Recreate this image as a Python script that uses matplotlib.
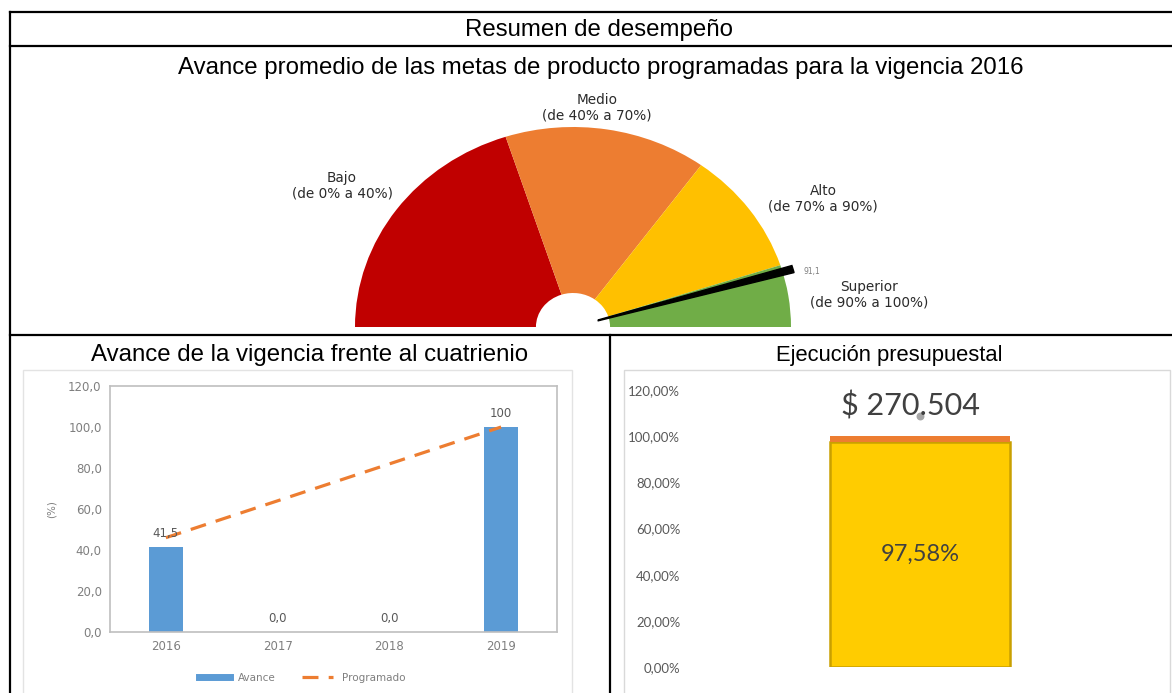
import matplotlib
matplotlib.use("Agg")
import matplotlib.pyplot as plt
from matplotlib.patches import Wedge, Rectangle
from matplotlib.lines import Line2D
from matplotlib import font_manager as fm

# ---------------- data ----------------
gauge_labels = ["Bajo\n(de 0% a 40%)", "Medio\n(de 40% a 70%)",
                "Alto\n(de 70% a 90%)", "Superior\n(de 90% a 100%)"]
gauge_ranges = [40, 30, 20, 10]
gauge_value = 91.1
gauge_value_label = "91,1"

years = ["2016", "2017", "2018", "2019"]
avance = [41.5, 0.0, 0.0, 100.0]
avance_labels = ["41,5", "0,0", "0,0", "100"]
programado = [46.0, 64.0, 82.0, 100.0]
left_yticks = [0, 20, 40, 60, 80, 100, 120]
left_yticklabels = ["0,0", "20,0", "40,0", "60,0", "80,0", "100,0", "120,0"]

ejecutado = 97.58
ejecutado_label = "97,58%"
presupuesto_label = "$ 270.504"
right_yticks = [0, 20, 40, 60, 80, 100, 120]
right_yticklabels = ["0,00%", "20,00%", "40,00%", "60,00%", "80,00%", "100,00%", "120,00%"]

# ---------------- figure ----------------
W, H = 1172, 693
fig = plt.figure(figsize=(W / 100, H / 100), dpi=100)
fig.patch.set_facecolor("white")


def has_font(name):
    try:
        fm.findfont(fm.FontProperties(family=name), fallback_to_default=False)
        return True
    except Exception:
        return False


title_font = "Liberation Sans Narrow" if has_font("Liberation Sans Narrow") else "Liberation Sans"


def box(l, t, r, b):
    return [l / W, 1 - b / H, (r - l) / W, (b - t) / H]


def fx(x):
    return x / W


def fy(y):
    return 1 - y / H


# table lines
def hline(y, x0, x1, lw=1.6):
    fig.add_artist(Line2D([fx(x0), fx(x1)], [fy(y), fy(y)], color="black", lw=lw))


def vline(x, y0, y1, lw=1.6):
    fig.add_artist(Line2D([fx(x), fx(x)], [fy(y0), fy(y1)], color="black", lw=lw))


hline(12, 10, 1172)
hline(46, 10, 1172)
hline(335, 10, 1172)
vline(10, 12, 693)
vline(610, 335, 693)

renderer = fig.canvas.get_renderer()


def fit_text(x, y, s, width, size=16, **kw):
    t = fig.text(fx(x), fy(y), s, ha="center", va="center", fontsize=size,
                 family=title_font, color="black", **kw)
    w = t.get_window_extent(renderer=renderer).width
    t.set_fontsize(size * width / w)
    return t


fit_text(599, 30, "Resumen de desempeño", 268)
fit_text(601, 68, "Avance promedio de las metas de producto programadas para la vigencia 2016", 848)
fit_text(310, 355, "Avance de la vigencia frente al cuatrienio", 440)
fit_text(889, 355, "Ejecución presupuestal", 228)

# ---------------- gauge ----------------
cx, cy = 573, 327
rx, ry = 218, 200
gl, gt, gr = 330, 110, 830
axg = fig.add_axes(box(gl, gt, gr, cy))
colors = ["#C00000", "#ED7D31", "#FFC000", "#70AD47"]
hole = 0.17
axg.pie(gauge_ranges + [sum(gauge_ranges)], colors=colors + ["none"],
        startangle=180, counterclock=False, radius=1,
        wedgeprops=dict(width=1 - hole, edgecolor="none"))
ang = 180 - 180 * gauge_value / sum(gauge_ranges)
axg.add_patch(Wedge((0, 0), 1.05, ang - 1.0, ang + 1.0, width=0.93, color="black"))
axg.set_aspect("auto")
axg.set_xlim(-(cx - gl) / rx, (gr - cx) / rx)
axg.set_ylim(0, (cy - gt) / ry)
axg.axis("off")

glabel_pos = [(342, 186), (597, 108), (823, 199), (869, 295)]
for (x, y), s in zip(glabel_pos, gauge_labels):
    fig.text(fx(x), fy(y), s, ha="center", va="center", fontsize=9.8,
             color="#2B2B2B", family="DejaVu Sans", linespacing=1.15)
fig.text(fx(812), fy(271), gauge_value_label, ha="center", va="center",
         fontsize=5.5, color="#7F7F7F", family="DejaVu Sans")

# ---------------- left chart ----------------
fig.add_artist(Rectangle((fx(23), fy(700)), fx(572) - fx(23), fy(370) - fy(700),
                         transform=fig.transFigure, fill=False, ec="#E3E3E3", lw=1))
axl = fig.add_axes(box(110, 386, 557, 632))
x = list(range(len(years)))
axl.bar(x, avance, width=0.31, color="#5B9BD5", zorder=2, label="Avance")
axl.plot(x, programado, color="#ED7D31", lw=2.3, dashes=(5, 3.2), zorder=3,
         label="Programado")
for xi, v, s in zip(x, avance, avance_labels):
    axl.text(xi, v + 3.5, s, ha="center", va="bottom", fontsize=8.5, color="#595959",
             family="DejaVu Sans")
axl.set_xlim(-0.5, 3.5)
axl.set_ylim(0, 120)
axl.set_yticks(left_yticks)
axl.set_yticklabels(left_yticklabels)
axl.set_xticks(x)
axl.set_xticklabels(years)
axl.tick_params(length=0, labelsize=8.5, labelcolor="#7F7F7F", pad=6)
for lab in axl.get_xticklabels() + axl.get_yticklabels():
    lab.set_family("DejaVu Sans")
for sp in axl.spines.values():
    sp.set_color("#BFBFBF")
    sp.set_linewidth(1.2)
axl.set_ylabel("(%)", fontsize=7.5, color="#7F7F7F", family="DejaVu Sans", labelpad=8)
handles = [Line2D([0], [0], color="#5B9BD5", lw=5),
           Line2D([0], [0], color="#ED7D31", lw=2.3, dashes=(5, 3.2))]
leg = fig.legend(handles, ["Avance", "Programado"], loc="center",
                 bbox_to_anchor=(fx(302), fy(678)), ncol=2, frameon=False,
                 fontsize=7.5, handlelength=3, columnspacing=2.5)
for t in leg.get_texts():
    t.set_color("#7F7F7F")
    t.set_family("DejaVu Sans")

# ---------------- right chart ----------------
fig.add_artist(Rectangle((fx(624), fy(700)), fx(1170) - fx(624), fy(370) - fy(700),
                         transform=fig.transFigure, fill=False, ec="#D9D9D9", lw=1))
axr = fig.add_axes(box(690, 390, 1150, 667))
axr.bar([0], [ejecutado], width=0.39, color="#FFCC00", edgecolor="#C9A000",
        linewidth=1.8, zorder=2)
axr.bar([0], [100 - ejecutado], bottom=[ejecutado], width=0.39, color="#ED7D31",
        edgecolor="none", zorder=2)
axr.text(0, ejecutado / 2, ejecutado_label, ha="center", va="center", fontsize=17,
         color="#404040", family="Lato")
axr.scatter([0], [108.7], s=22, color="#A6A6A6", zorder=3)
axr.text(-0.02, 113, presupuesto_label, ha="center", va="center", fontsize=22,
         color="#404040", family="Lato")
axr.set_xlim(-0.5, 0.5)
axr.set_ylim(0, 120)
axr.set_yticks(right_yticks)
axr.set_yticklabels(right_yticklabels)
axr.set_xticks([])
axr.tick_params(length=0, labelsize=9.5, labelcolor="#595959", pad=7)
for lab in axr.get_yticklabels():
    lab.set_family("Lato")
for sp in axr.spines.values():
    sp.set_visible(False)

fig.savefig("out.png", dpi=100)
